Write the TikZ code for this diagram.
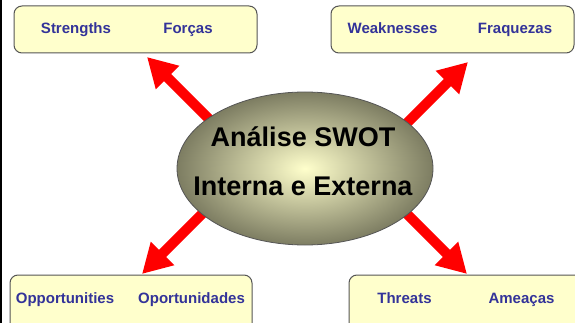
\documentclass[tikz,border=0pt]{standalone}
\usepackage{fontspec}
\setmainfont{Liberation Sans}
\usetikzlibrary{arrows.meta,shapes.geometric}
\definecolor{boxfill}{RGB}{255,255,204}
\definecolor{boxline}{RGB}{85,85,85}
\definecolor{labelblue}{RGB}{51,51,153}
\definecolor{ovaledge}{RGB}{125,125,98}
\definecolor{ovalcore}{RGB}{255,255,204}
\tikzset{
  swotbox/.style={draw=boxline, line width=1pt, fill=boxfill, rounded corners=8pt},
  swotlabel/.style={anchor=base, inner sep=0pt, text=labelblue, font=\fontsize{15}{18}\selectfont\bfseries},
  swotarrow/.style={draw=red, line width=10pt, -{Triangle[length=29pt,width=31pt]}},
  centertext/.style={anchor=base, inner sep=0pt, text=black, font=\fontsize{27}{32}\selectfont\bfseries}
}
\begin{document}
\begin{tikzpicture}[x=1pt,y=-1pt]
  % page frame
  \fill[white] (0,0) rectangle (575,323);
  \useasboundingbox (0,0) rectangle (575,323);
  \clip (0,0) rectangle (575,323);
  \fill[black] (0,0) rectangle (2,323);

  % the four quadrant boxes
  \path[swotbox] (14,6) rectangle (257,53);
  \path[swotbox] (331,6) rectangle (574,53);
  \path[swotbox] (10,275) rectangle (252,335);
  \path[swotbox] (349,275) rectangle (600,335);

  \node[swotlabel] (s-en) at (76,34) {Strengths};
  \node[swotlabel] (s-pt) at (188,34) {Forças};
  \node[swotlabel] (w-en) at (392.5,34) {Weaknesses};
  \node[swotlabel] (w-pt) at (515,34) {Fraquezas};
  \node[swotlabel] (o-en) at (65,303) {Opportunities};
  \node[swotlabel] (o-pt) at (191.5,303) {Oportunidades};
  \node[swotlabel] (t-en) at (404.5,303) {Threats};
  \node[swotlabel] (t-pt) at (521.5,303) {Ameaças};

  % arrows start inside the oval and point at the boxes
  \coordinate (startNW) at (225,135);
  \coordinate (tipNW) at (147,57);
  \coordinate (startNE) at (388,142);
  \coordinate (tipNE) at (468,62);
  \coordinate (startSW) at (222,194);
  \coordinate (tipSW) at (142,274);
  \coordinate (startSE) at (387,194);
  \coordinate (tipSE) at (467,274);
  \draw[swotarrow] (startNW) -- (tipNW);
  \draw[swotarrow] (startNE) -- (tipNE);
  \draw[swotarrow] (startSW) -- (tipSW);
  \draw[swotarrow] (startSE) -- (tipSE);

  % central oval
  \node[ellipse, draw=boxline, line width=0.8pt, inner color=ovalcore, outer color=ovaledge,
        minimum width=256pt, minimum height=153pt, inner sep=0pt] (swot) at (305,168.5) {};
  \node[centertext] (title1) at (303,147) {Análise SWOT};
  \node[centertext] (title2) at (303,196) {Interna e Externa};
\end{tikzpicture}
\end{document}
